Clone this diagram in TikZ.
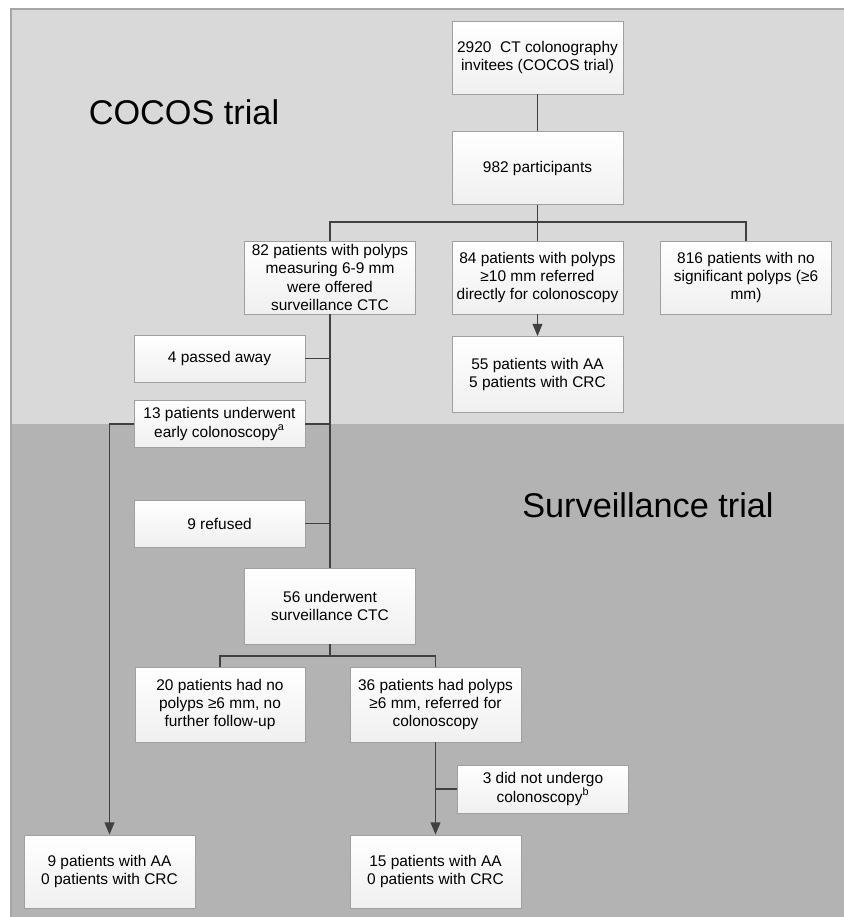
\documentclass[tikz,border=0pt]{standalone}
\usepackage{fontspec}
\setmainfont{Liberation Sans}
\usetikzlibrary{positioning}
\usetikzlibrary{arrows.meta}
\definecolor{bglight}{RGB}{217,217,217}
\definecolor{bgdark}{RGB}{179,179,179}
\definecolor{frame}{RGB}{166,166,166}
\definecolor{edge}{RGB}{160,160,160}
\definecolor{link}{RGB}{64,64,64}

\begin{document}
\begin{tikzpicture}[x=0.02cm, y=-0.02cm,
    box/.style={draw=edge, top color=white, bottom color=gray!12, align=center,
      minimum width=3.42cm, minimum height=1.46cm, inner sep=1pt,
      font=\fontsize{8.8}{10.4}\selectfont},
    smallbox/.style={box, minimum height=0.94cm},
    line/.style={draw=link, line width=1pt},
    arr/.style={line, -{Triangle[width=5.5pt,length=7pt]}},
    title/.style={font=\fontsize{19.5}{22}\selectfont}]
    % Background panels
    \useasboundingbox (0,0) rectangle (844,917);
    \fill[bglight] (11,9) rectangle (844,424);
    \fill[bgdark] (11,424) rectangle (844,917);
    \draw[frame, line width=0.8pt] (11,917) -- (11,9) -- (844,9);
    \node[title] (cocos) at (184,112) {COCOS trial};
    \node[title] (surv) at (648,505) {Surveillance trial};

    % COCOS trial
    \node[box] (invite) at (537.5,57.5) {2920\ \ CT colonography\\invitees (COCOS trial)};
    \node[box] (part) at (537.5,168) {982 participants};
    \node[box] (offered) at (330,277.5) {82 patients with polyps\\measuring 6-9 mm\\were offered\\surveillance CTC};
    \node[box] (referred) at (537.5,277.5) {84 patients with polyps\\≥10 mm referred\\directly for colonoscopy};
    \node[box] (nosig) at (746,277.5) {816 patients with no\\significant polyps (≥6\\mm)};
    \node[box, minimum height=1.52cm] (aa1) at (537.5,374.5) {55 patients with AA\\5 patients with CRC};
    \coordinate (split1) at (537.5,222);

    \draw[line] (invite) -- (part);
    \draw[line] (part) -- (referred);
    \draw[line] (offered.north) |- (split1) -| (nosig.north);
    \draw[arr] (referred) -- (aa1);

    % Drop-outs
    \node[smallbox] (died) at (219.5,358.5) {4 passed away};
    \node[smallbox] (early) at (219.5,424) {13 patients underwent\\early colonoscopy\textsuperscript{a}};
    \node[smallbox] (refused) at (219.5,523.5) {9 refused};

    % Surveillance trial
    \node[box, minimum height=1.52cm] (ctc) at (330,606) {56 underwent\\surveillance CTC};
    \node[box, minimum width=3.4cm, minimum height=1.5cm] (nopol) at (220,704.5) {20 patients had no\\polyps ≥6 mm, no\\further follow-up};
    \node[box, minimum height=1.5cm] (pol) at (435.5,704.5) {36 patients had polyps\\≥6 mm, referred for\\colonoscopy};
    \node[smallbox, minimum height=0.96cm] (notund) at (543,789) {3 did not undergo\\colonoscopy\textsuperscript{b}};
    \node[box] (res9) at (109.5,871.5) {9 patients with AA\\0 patients with CRC};
    \node[box] (res15) at (435.5,871.5) {15 patients with AA\\0 patients with CRC};
    \coordinate (split2) at (330,656);

    \draw[line] (offered.south) -- (ctc.north);
    \draw[line] (died.east) -- (died.east -| offered.south);
    \draw[line] (early.east) -- (early.east -| offered.south);
    \draw[line] (refused.east) -- (refused.east -| offered.south);
    \draw[arr] (early.west) -| (res9.north);
    \draw[line] (ctc.south) -- (split2);
    \draw[line] (nopol.north) |- (split2) -| (pol.north);
    \draw[arr] (pol) -- (res15);
    \draw[line] (notund.west) -- (notund.west -| pol.south);
\end{tikzpicture}
\end{document}
